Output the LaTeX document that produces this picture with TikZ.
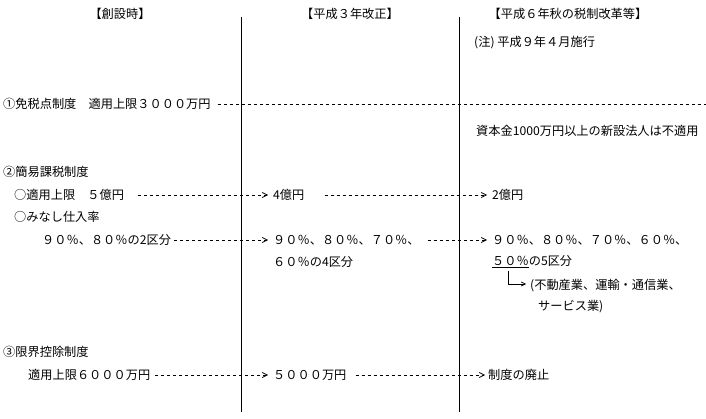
\documentclass[tikz,border=0pt]{standalone}
\usepackage{fontspec}
\setmainfont{Noto Sans CJK JP}
\usetikzlibrary{arrows.meta, positioning}
\tikzset{
  txt/.style={anchor=west, inner sep=0pt, font=\fontsize{12.2}{14}\selectfont},
  head/.style={txt, anchor=center},
  dots/.style={dash pattern=on 3pt off 3pt, line width=0.7pt},
  arr/.style={dots, -{Straight Barb[length=5pt, width=5pt]}},
  sep/.style={line width=1pt}
}

\begin{document}
\begin{tikzpicture}[x=1pt, y=-1pt]
  \useasboundingbox (0,0) rectangle (706,419);
  \node[head] (h1) at (120,14) {【創設時】};
  \node[head] (h2) at (350,14) {【平成３年改正】};
  \node[head] (h3) at (568,14) {【平成６年秋の税制改革等】};
  \node[txt] (note) at (474,43) {(注)\ 平成９年４月施行};
  \coordinate (top1) at (241,17);
  \coordinate (bot1) at (241,412);
  \coordinate (top2) at (459,17);
  \coordinate (bot2) at (459,412);
  \draw[sep] (top1) -- (bot1);
  \draw[sep] (top2) -- (bot2);

  \node[txt] (gen) at (3,104) {①免税点制度　適用上限３０００万円};
  \coordinate (genend) at (706,104);
  \draw[dots] ([xshift=7pt]gen.east) -- (genend);
  \node[txt] (genc) at (476,131) {資本金1000万円以上の新設法人は不適用};

  \node[txt] (kan) at (3,172) {②簡易課税制度};
  \node[txt] (lim1) at (14,195) {○適用上限　５億円};
  \node[txt] (lim2) at (273,195) {4億円};
  \node[txt] (lim3) at (492,195) {2億円};
  \draw[arr] ([xshift=14pt]lim1.east) -- ([xshift=-5pt]lim2.west);
  \draw[arr] ([xshift=20pt]lim2.east) -- ([xshift=-5pt]lim3.west);
  \node[txt] (min) at (14,217) {○みなし仕入率};
  \node[txt] (rate1) at (42,240) {９０％、８０％の2区分};
  \node[txt] (rate2) at (273,240) {９０％、８０％、７０％、};
  \node[txt] (rate2b) at (273,262) {６０％の4区分};
  \node[txt] (rate3) at (492,240) {９０％、８０％、７０％、６０％、};
  \node[txt] (rate3b) at (492,262) {\underline{５０％}の5区分};
  \draw[arr] ([xshift=3pt]rate1.east) -- ([xshift=-5pt]rate2.west);
  \draw[arr] ([xshift=8pt]rate2.east) -- ([xshift=-5pt]rate3.west);
  \node[txt] (ind) at (530,286) {(不動産業、運輸・通信業、};
  \node[txt] (ind2) at (538,307) {サービス業)};
  \draw[line width=0.7pt, -{Straight Barb[length=4pt, width=4pt]}] ([shift={(16,3)}]rate3b.south west) |- ([xshift=-4pt, yshift=2pt]ind.west);

  \node[txt] (gnk) at (3,352) {③限界控除制度};
  \node[txt] (ded1) at (28,375) {適用上限６０００万円};
  \node[txt] (ded2) at (273,375) {５０００万円};
  \node[txt] (ded3) at (488,375) {制度の廃止};
  \draw[arr] ([xshift=5pt]ded1.east) -- ([xshift=-5pt]ded2.west);
  \draw[arr] ([xshift=9pt]ded2.east) -- ([xshift=-3pt]ded3.west);
\end{tikzpicture}
\end{document}
